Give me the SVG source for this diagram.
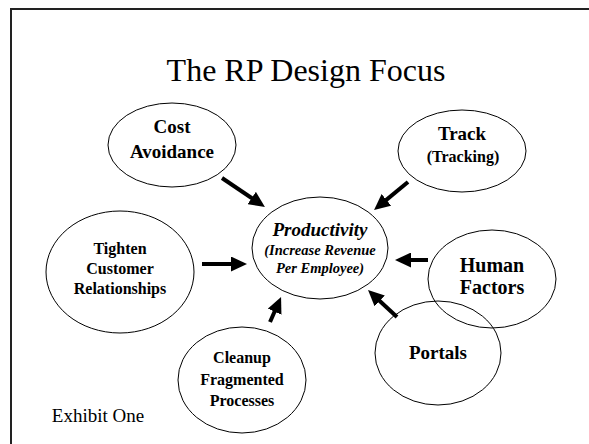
<svg xmlns="http://www.w3.org/2000/svg" width="589" height="444" viewBox="0 0 589 444">
<style>
.n ellipse{fill:none;stroke:#000;stroke-width:1}
text{font-family:"Liberation Serif","Times New Roman",serif;fill:#000;text-anchor:middle}
.b{font-weight:bold}
.bi{font-weight:bold;font-style:italic}
.c line{stroke:#000;stroke-width:4;marker-end:url(#ah)}
</style>
<defs>
<marker id="ah" markerUnits="userSpaceOnUse" markerWidth="17" markerHeight="15" refX="4" refY="7.5" orient="auto">
<path d="M0,0 L16,7.5 L0,15 z" fill="#000"/>
</marker>
</defs>
<rect width="589" height="444" fill="#fff"/>
<path d="M11,444 V9 H589" fill="none" stroke="#222" stroke-width="2"/>
<text x="306" y="81" font-size="32">The RP Design Focus</text>
<g id="cost" class="n"><ellipse cx="172" cy="145" rx="64" ry="42"/><text class="b" font-size="19" x="172" y="133">Cost</text><text class="b" font-size="19" x="172" y="158">Avoidance</text></g>
<g id="track" class="n"><ellipse cx="462" cy="151" rx="64" ry="41"/><text class="b" font-size="19" x="462" y="140">Track</text><text class="b" font-size="16" x="463" y="162">(Tracking)</text></g>
<g id="productivity" class="n"><ellipse cx="320" cy="248" rx="68" ry="51"/><text class="bi" font-size="19" x="320" y="236">Productivity</text><text class="bi" font-size="14.5" x="320" y="255">(Increase Revenue</text><text class="bi" font-size="14.5" x="320" y="273">Per Employee)</text></g>
<g id="tighten" class="n"><ellipse cx="120" cy="272" rx="74" ry="61"/><text class="b" font-size="16" x="120" y="254">Tighten</text><text class="b" font-size="16" x="120" y="274">Customer</text><text class="b" font-size="16" x="120" y="294">Relationships</text></g>
<g id="human" class="n"><ellipse cx="492" cy="279" rx="64" ry="49"/><text class="b" font-size="20" x="492" y="272">Human</text><text class="b" font-size="20" x="492" y="294">Factors</text></g>
<g id="portals" class="n"><ellipse cx="438" cy="353" rx="63" ry="52"/><text class="b" font-size="19" x="438" y="359">Portals</text></g>
<g id="cleanup" class="n"><ellipse cx="242" cy="380" rx="64" ry="53"/><text class="b" font-size="16" x="242" y="363">Cleanup</text><text class="b" font-size="16" x="242" y="385">Fragmented</text><text class="b" font-size="16" x="242" y="406">Processes</text></g>
<text x="98" y="422" font-size="19">Exhibit One</text>
<g id="connectors" class="c">
<line x1="222" y1="178" x2="255" y2="200.3"/>
<line x1="408" y1="182" x2="383.3" y2="202.4"/>
<line x1="202" y1="264" x2="235" y2="264"/>
<line x1="428" y1="260" x2="407" y2="260"/>
<line x1="397" y1="317" x2="376.8" y2="298.2"/>
<line x1="270" y1="322" x2="276.2" y2="308"/>
</g>
</svg>
